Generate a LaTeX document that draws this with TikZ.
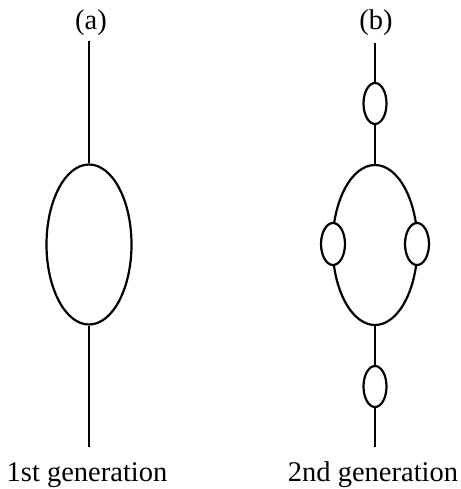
\documentclass[tikz,border=0pt]{standalone}
\usepackage{fontspec}
\setmainfont{Liberation Serif}
\usetikzlibrary{shapes.geometric}
\begin{document}
\begin{tikzpicture}[x=1pt, y=-1pt, line width=2.2pt,
  loop/.style={draw, ellipse, inner sep=0pt, fill=white},
  bigloop/.style={loop, minimum width=85pt, minimum height=160pt},
  smallloop/.style={loop, minimum width=23pt, minimum height=41pt},
  lbl/.style={font=\fontsize{28.5}{30}\selectfont, anchor=base, inner sep=0pt}]
\useasboundingbox (0,0) rectangle (460,489);

% (a) first generation: a single loop on a line
\node[lbl] (la) at (91,30) {(a)};
\coordinate (aTop) at (89,41);
\node[bigloop] (A) at (89,244.5) {};
\coordinate (aBot) at (89,447);
\draw (aTop) -- (A.north);
\draw (A.south) -- (aBot);
\node[lbl] (g1) at (87,481) {1st generation};

% (b) second generation: every line carries a small loop
\node[lbl] (lb) at (376,30) {(b)};
\coordinate (bTop) at (375,43);
\node[smallloop] (b1) at (375,103.5) {};
\node[bigloop] (B) at (375,245) {};
\node[smallloop, minimum width=24pt, minimum height=42pt] (bL) at (333,244) {};
\node[smallloop, minimum width=24pt, minimum height=42pt] (bR) at (417,244) {};
\node[smallloop] (b2) at (375,386.5) {};
\coordinate (bBot) at (375,447);
\draw (bTop) -- (b1.north);
\draw (b1.south) -- (B.north);
\draw (B.south) -- (b2.north);
\draw (b2.south) -- (bBot);
\node[lbl] (g2) at (373,481) {2nd generation};
\end{tikzpicture}
\end{document}
